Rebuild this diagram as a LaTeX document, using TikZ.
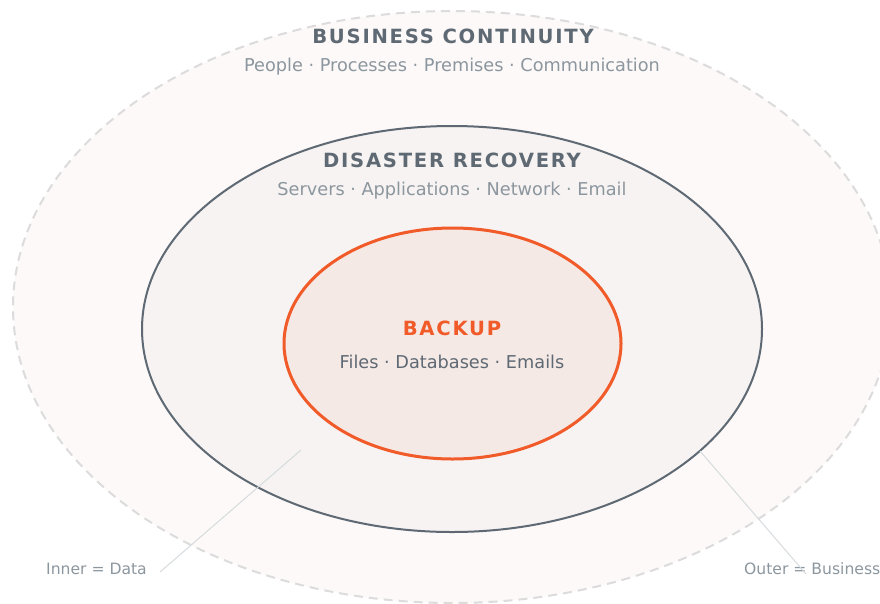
\documentclass[tikz,border=0pt]{standalone}
\usepackage{fontspec}
\setmainfont{DejaVu Sans}
\usetikzlibrary{shapes.geometric}
\definecolor{slate}{HTML}{5E6973}
\definecolor{mist}{HTML}{8C969E}
\definecolor{ember}{HTML}{F15A29}
\definecolor{shellfill}{HTML}{FCF9F8}
\definecolor{shelldash}{HTML}{DCDCDC}
\definecolor{midfill}{HTML}{F6F3F2}
\definecolor{corefill}{HTML}{F5E9E5}
\definecolor{leader}{HTML}{D6DBDE}
\tikzset{
  ring/.style={ellipse, inner sep=0pt, outer sep=0pt},
  title/.style={font=\fontsize{19.6}{22}\bfseries\addfontfeature{LetterSpace=9}, text=slate, inner sep=0pt},
  items/.style={font=\fontsize{17.7}{20}\selectfont, text=mist, inner sep=0pt},
  note/.style={font=\fontsize{15.6}{18}\selectfont, text=mist, inner sep=0pt},
  leaderline/.style={draw=leader, line width=1pt}
}
\begin{document}
\begin{tikzpicture}[x=1pt, y=-1pt]
  \useasboundingbox (0,0) rectangle (880,603);
  \clip (0,0) rectangle (880,603);
  % three nested scopes
  \node[ring, minimum width=878pt, minimum height=592pt, fill=shellfill,
        draw=shelldash, line width=2pt, dash pattern=on 9pt off 6pt] (bc) at (452,307) {};
  \node[ring, minimum width=620pt, minimum height=406pt, fill=midfill,
        draw=slate, line width=2pt] (dr) at (452,329) {};
  \node[ring, minimum width=337pt, minimum height=231pt, fill=corefill,
        draw=ember, line width=3pt] (bk) at (452.5,343.5) {};
  % headings
  \node[title] (bctitle) at (453,36) {BUSINESS CONTINUITY};
  \node[items] (bcitems) at (452,66.5) {People · Processes · Premises · Communication};
  \node[title] (drtitle) at (452,160) {DISASTER RECOVERY};
  \node[items] (dritems) at (452,190.5) {Servers · Applications · Network · Email};
  \node[title, text=ember] (bktitle) at (452,328) {BACKUP};
  \node[items, text=slate] (bkitems) at (452,362) {Files · Databases · Emails};
  % legend notes
  \node[note, anchor=east] (innernote) at (147,569) {Inner = Data};
  \node[note, anchor=west] (outernote) at (744,569) {Outer = Business};
  \coordinate (innertip) at (301,450);
  \coordinate (outertip) at (700,451);
  \draw[leaderline] ([xshift=13pt,yshift=-3pt]innernote.east) -- (innertip);
  \draw[leaderline] ([xshift=62pt,yshift=-5pt]outernote.west) -- (outertip);
\end{tikzpicture}
\end{document}
